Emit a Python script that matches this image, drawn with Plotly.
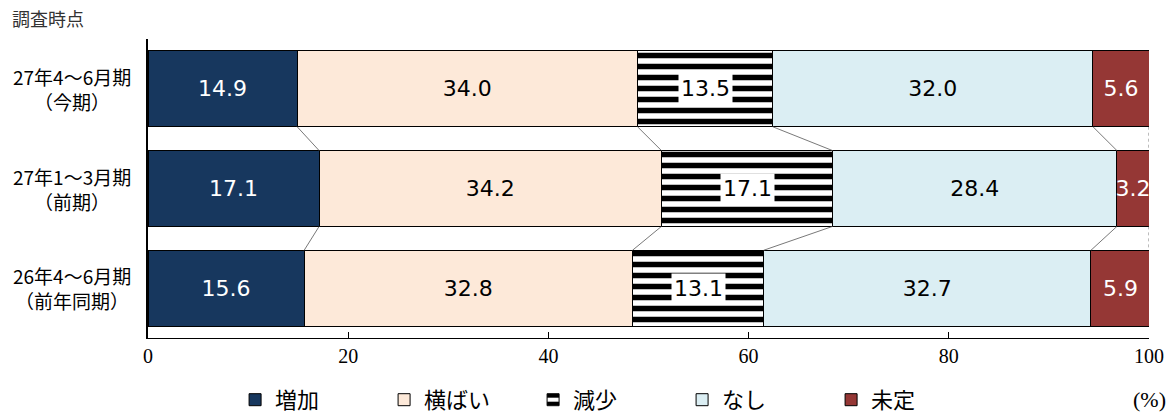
import plotly.graph_objects as go

periods = ["27年4～6月期<br>（今期）", "27年1～3月期<br>（前期）", "26年4～6月期<br>（前年同期）"]
series_names = ["増加", "横ばい", "減少", "なし", "未定"]
zouka = [14.9, 17.1, 15.6]
yokobai = [34.0, 34.2, 32.8]
genshou = [13.5, 17.1, 13.1]
nashi = [32.0, 28.4, 32.7]
mitei = [5.6, 3.2, 5.9]
x_ticks = [0, 20, 40, 60, 80, 100]

series_vals = [zouka, yokobai, genshou, nashi, mitei]
colors = ["#17375E", "#FDE9D9", "#FFFFFF", "#DBEEF3", "#953735"]
text_colors = ["white", "black", "black", "black", "white"]

ypos = [2, 1, 0]
bw = 0.76

fig = go.Figure()
for i, (name, vals) in enumerate(zip(series_names, series_vals)):
    marker = dict(color=colors[i], line=dict(color="black", width=1))
    if name == "減少":
        marker["pattern"] = dict(shape="-", fgcolor="black", fgopacity=1, bgcolor="white",
                                 size=11, solidity=0.5)
    fig.add_trace(go.Bar(
        name=name, x=vals, y=ypos, orientation="h", width=bw,
        marker=marker,
        text=[f"{v:.1f}" for v in vals] if name != "減少" else None,
        textposition="inside", insidetextanchor="middle", constraintext="none", textangle=0,
        textfont=dict(family="DejaVu Sans", size=22, color=text_colors[i]),
        hoverinfo="skip",
    ))

# labels for the patterned segment, with white background
for k in range(3):
    start = zouka[k] + yokobai[k]
    mid = start + genshou[k] / 2
    fig.add_annotation(x=mid, y=ypos[k], xref="x", yref="y", text=f"{genshou[k]:.1f}",
                       showarrow=False, bgcolor="white", borderpad=2,
                       font=dict(family="DejaVu Sans", size=22, color="black"))

# connector (series) lines between bars
cums = []
for k in range(3):
    c, acc = [], 0.0
    for vals in series_vals:
        acc += vals[k]
        c.append(min(acc, 100.0))
    cums.append(c)
for k in range(2):
    for j in range(5):
        fig.add_trace(go.Scatter(
            x=[cums[k][j], cums[k + 1][j]],
            y=[ypos[k] - bw / 2, ypos[k + 1] + bw / 2],
            mode="lines", line=dict(color="#555555", width=0.8, dash="dot" if j == 4 else "solid"),
            showlegend=False, hoverinfo="skip"))

# category labels
for k in range(3):
    fig.add_annotation(x=-0.076, y=ypos[k], xref="paper", yref="y", text=periods[k],
                       showarrow=False, xanchor="center", align="center",
                       font=dict(family="Noto Sans CJK JP", size=19, color="black"))

fig.add_annotation(x=-0.138, y=1.07, xref="paper", yref="paper", text="調査時点",
                   showarrow=False, xanchor="left", yanchor="middle",
                   font=dict(family="Noto Sans CJK JP", size=18, color="#333333"))
fig.add_annotation(x=1.0, y=-0.207, xref="paper", yref="paper", text="(%)",
                   showarrow=False, xanchor="center", yanchor="middle",
                   font=dict(family="Liberation Serif", size=22, color="black"))

fig.update_layout(
    barmode="stack",
    width=1174, height=414,
    margin=dict(l=148, r=25, t=39, b=76, autoexpand=False),
    plot_bgcolor="white", paper_bgcolor="white",
    showlegend=True,
    legend=dict(orientation="h", x=0.087, xanchor="left", y=-0.207, yanchor="middle",
                font=dict(family="Noto Sans CJK JP", size=22, color="black"),
                entrywidth=104, entrywidthmode="pixels", traceorder="normal",
                itemclick=False, itemwidth=30),
    xaxis=dict(range=[0, 100], tickvals=x_ticks, ticktext=[str(t) for t in x_ticks],
               showgrid=False, zeroline=False, showline=True, linecolor="black", linewidth=1,
               ticks="inside", ticklen=6, tickcolor="black",
               tickfont=dict(family="Liberation Serif", size=20, color="black")),
    yaxis=dict(range=[-0.5, 2.5], showticklabels=False, showgrid=False, zeroline=False,
               showline=True, linecolor="black", linewidth=1.5),
)

fig.write_html("out.html")
